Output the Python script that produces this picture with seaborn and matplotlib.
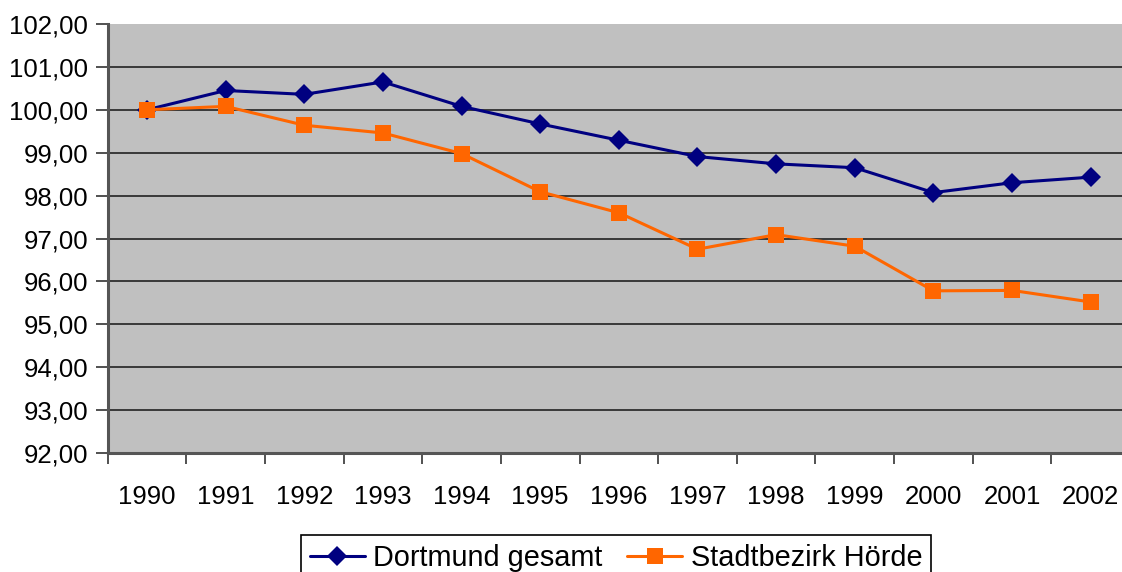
import matplotlib
matplotlib.use("Agg")
import matplotlib.pyplot as plt
from matplotlib.ticker import FixedLocator, FuncFormatter
from matplotlib.lines import Line2D
import seaborn as sns
import pandas as pd

years = [1990, 1991, 1992, 1993, 1994, 1995, 1996, 1997, 1998, 1999, 2000, 2001, 2002]
dortmund = [100.00, 100.45, 100.36, 100.65, 100.08, 99.67, 99.29, 98.91, 98.74, 98.65, 98.07, 98.30, 98.43]
hoerde = [100.00, 100.08, 99.64, 99.46, 98.98, 98.09, 97.60, 96.75, 97.09, 96.82, 95.78, 95.79, 95.52]
series_names = ["Dortmund gesamt", "Stadtbezirk Hörde"]
colors = ["#000080", "#FF6600"]
markers = ["D", "s"]
y_ticks = [92, 93, 94, 95, 96, 97, 98, 99, 100, 101, 102]

df = pd.DataFrame({
    "Jahr": years * 2,
    "Wert": dortmund + hoerde,
    "Serie": [series_names[0]] * len(years) + [series_names[1]] * len(years),
})

sns.set_style("white")
plt.rcParams["font.family"] = ["Liberation Sans", "DejaVu Sans"]
plt.rcParams["text.color"] = "black"
plt.rcParams["xtick.color"] = "black"
plt.rcParams["ytick.color"] = "black"

fig = plt.figure(figsize=(11.22, 5.72), dpi=100)
ax = fig.add_axes([107.7 / 1122, 1 - 453 / 572, 1022.3 / 1122, 429 / 572])
ax.set_facecolor("#C0C0C0")

sns.lineplot(data=df, x="Jahr", y="Wert", hue="Serie", style="Serie",
             palette=dict(zip(series_names, colors)),
             markers=dict(zip(series_names, markers)),
             dashes=False, linewidth=2.2, markersize=10,
             markeredgewidth=0, ax=ax, legend=False)
marker_sizes = [10, 11]
for line, ms in zip(ax.get_lines(), marker_sizes):
    line.set_markersize(ms)

ax.set_xlim(years[0] - 0.5, years[-1] + 0.5)
ax.set_ylim(y_ticks[0], y_ticks[-1])
ax.set_xlabel("")
ax.set_ylabel("")

ax.set_yticks(y_ticks)
ax.yaxis.set_major_formatter(FuncFormatter(lambda v, p: f"{v:.2f}".replace(".", ",")))
ax.set_xticks(years)
ax.set_xticklabels([str(y) for y in years])
ax.xaxis.set_minor_locator(FixedLocator([y - 0.5 for y in years] + [years[-1] + 0.5]))

ax.tick_params(axis="y", which="major", length=9, width=1.2, color="#333333",
               labelcolor="black", labelsize=18.5, pad=5, left=True, direction="out")
ax.tick_params(axis="x", which="major", length=0, labelsize=18.5, labelcolor="black",
               pad=23, bottom=True)
ax.tick_params(axis="x", which="minor", length=8, width=1.2, color="#333333",
               bottom=True, direction="out")

ax.grid(False)
for yv in y_ticks[1:-1]:
    ax.axhline(yv, color="#222222", linewidth=1.2, zorder=0.5)

for s in ["top", "right"]:
    ax.spines[s].set_visible(False)
for s in ["left", "bottom"]:
    ax.spines[s].set_color("#555555")
    ax.spines[s].set_linewidth(2.2)

handles = [Line2D([], [], color=c, marker=m, linewidth=2.2, markersize=ms, markeredgewidth=0)
           for c, m, ms in zip(colors, markers, marker_sizes)]
leg = fig.legend(handles, series_names, loc="upper left",
                 bbox_to_anchor=(301 / 1122, 1 - 535 / 572), ncol=2,
                 fontsize=20.8, frameon=True, fancybox=False, edgecolor="black",
                 framealpha=1, handlelength=1.9, handletextpad=0.3,
                 columnspacing=0.85, borderpad=0.3, borderaxespad=0)
leg.get_frame().set_linewidth(1.2)
for t in leg.get_texts():
    t.set_color("black")

fig.savefig("out.png", dpi=100)
